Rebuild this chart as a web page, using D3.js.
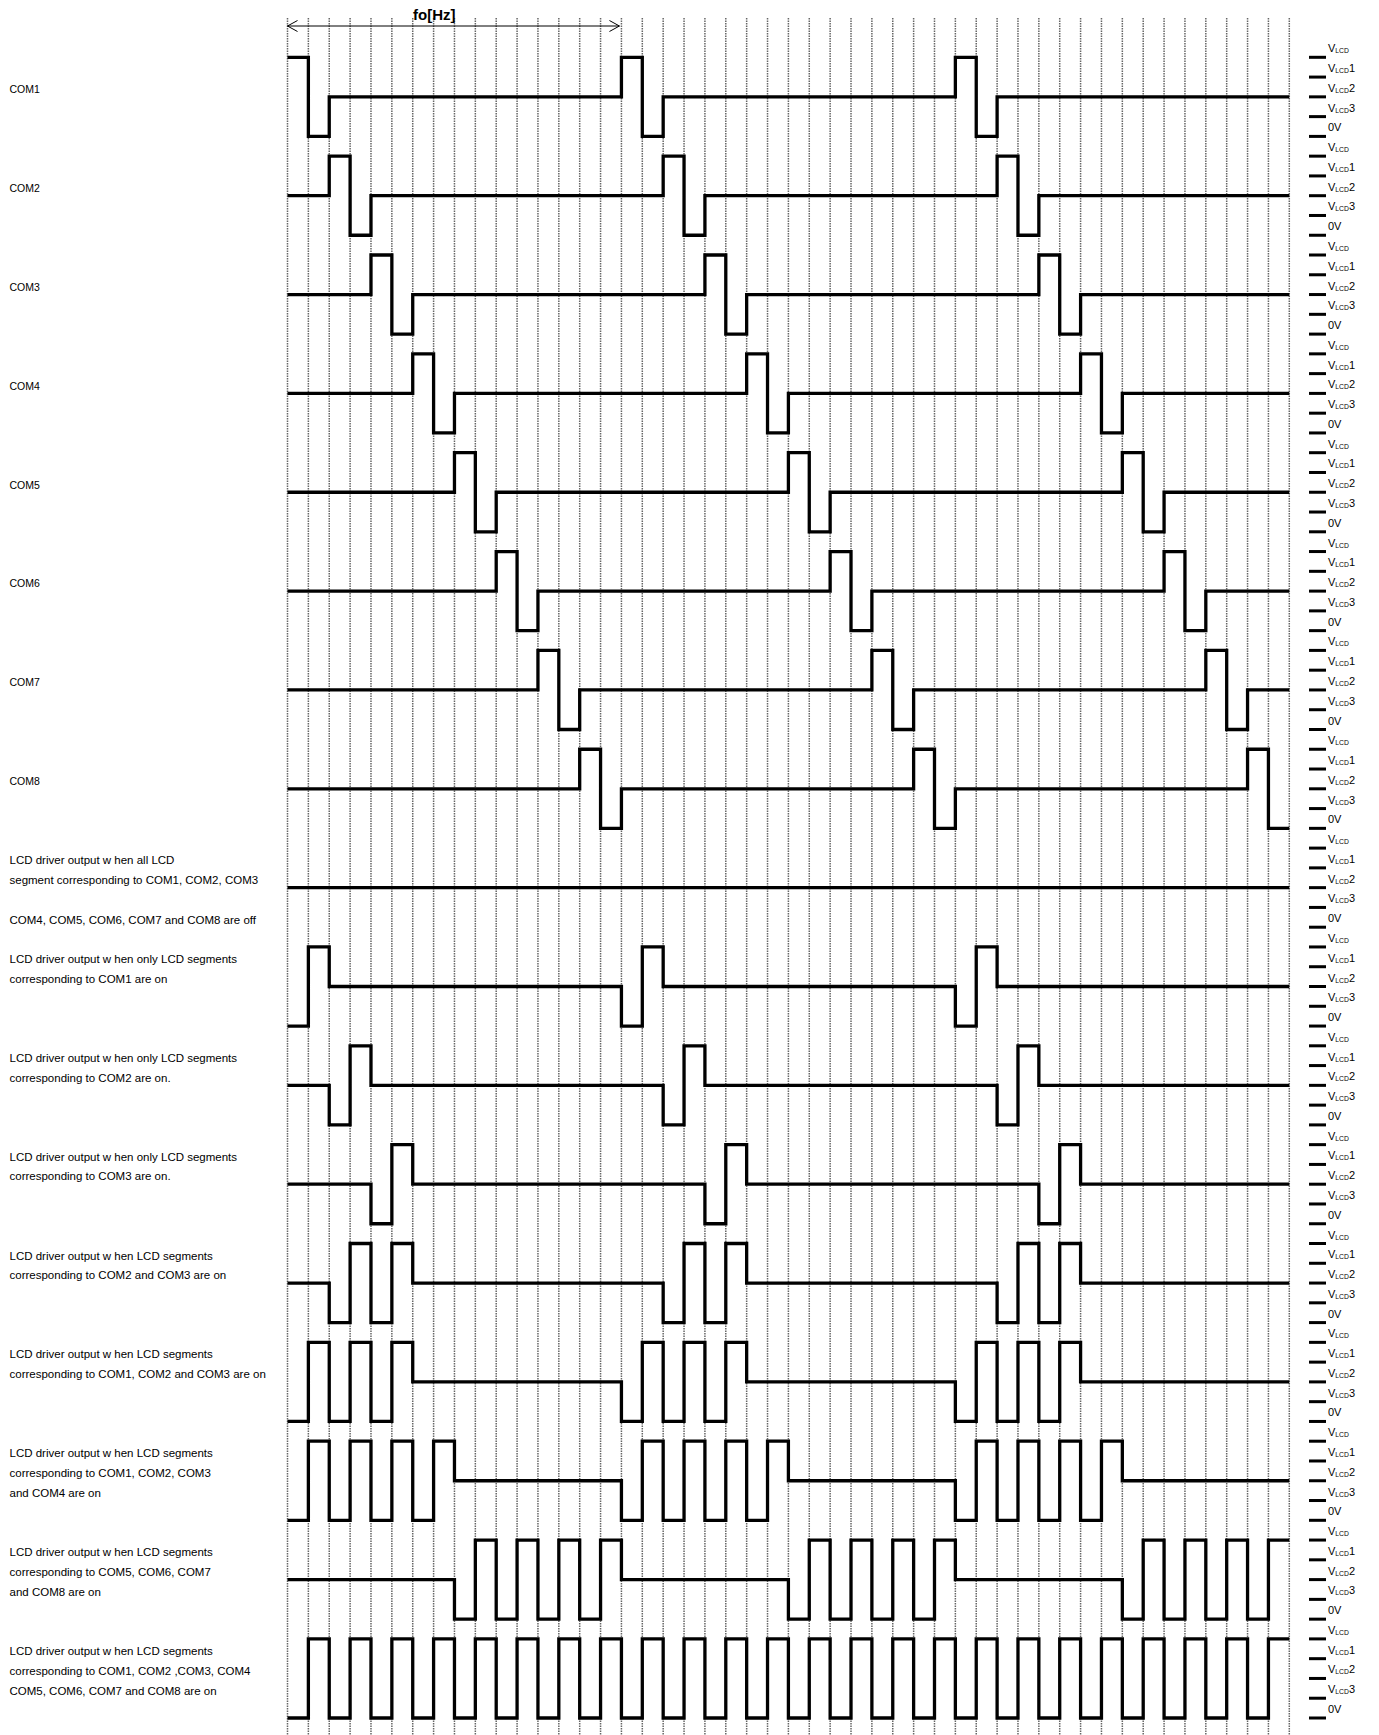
<!DOCTYPE html>
<html>
<head>
<meta charset="utf-8">
<script src="https://cdn.jsdelivr.net/npm/d3@7"></script>
<style>
  body { margin: 0; background: #fff; }
  text { font-family: "Liberation Sans", Arial, sans-serif; fill: #000; }
</style>
</head>
<body>
<div id="chart"></div>
<script>
var svgWidth = 1379;
var svgHeight = 1735;

// levels: 4 = VLCD, 3 = VLCD1, 2 = VLCD2, 1 = VLCD3, 0 = 0V
var slotCount = 48;
var levels = [4, 3, 2, 1, 0];
var levelNames = [["V", "LCD", ""], ["V", "LCD", "1"], ["V", "LCD", "2"], ["V", "LCD", "3"], ["0V", "", ""]];

// one value per time slot (3 frames of 16 slots)
var com1 = [4,0,2,2,2,2,2,2,2,2,2,2,2,2,2,2, 4,0,2,2,2,2,2,2,2,2,2,2,2,2,2,2, 4,0,2,2,2,2,2,2,2,2,2,2,2,2,2,2];
var com2 = [2,2,4,0,2,2,2,2,2,2,2,2,2,2,2,2, 2,2,4,0,2,2,2,2,2,2,2,2,2,2,2,2, 2,2,4,0,2,2,2,2,2,2,2,2,2,2,2,2];
var com3 = [2,2,2,2,4,0,2,2,2,2,2,2,2,2,2,2, 2,2,2,2,4,0,2,2,2,2,2,2,2,2,2,2, 2,2,2,2,4,0,2,2,2,2,2,2,2,2,2,2];
var com4 = [2,2,2,2,2,2,4,0,2,2,2,2,2,2,2,2, 2,2,2,2,2,2,4,0,2,2,2,2,2,2,2,2, 2,2,2,2,2,2,4,0,2,2,2,2,2,2,2,2];
var com5 = [2,2,2,2,2,2,2,2,4,0,2,2,2,2,2,2, 2,2,2,2,2,2,2,2,4,0,2,2,2,2,2,2, 2,2,2,2,2,2,2,2,4,0,2,2,2,2,2,2];
var com6 = [2,2,2,2,2,2,2,2,2,2,4,0,2,2,2,2, 2,2,2,2,2,2,2,2,2,2,4,0,2,2,2,2, 2,2,2,2,2,2,2,2,2,2,4,0,2,2,2,2];
var com7 = [2,2,2,2,2,2,2,2,2,2,2,2,4,0,2,2, 2,2,2,2,2,2,2,2,2,2,2,2,4,0,2,2, 2,2,2,2,2,2,2,2,2,2,2,2,4,0,2,2];
var com8 = [2,2,2,2,2,2,2,2,2,2,2,2,2,2,4,0, 2,2,2,2,2,2,2,2,2,2,2,2,2,2,4,0, 2,2,2,2,2,2,2,2,2,2,2,2,2,2,4,0];
var segOff  = [2,2,2,2,2,2,2,2,2,2,2,2,2,2,2,2, 2,2,2,2,2,2,2,2,2,2,2,2,2,2,2,2, 2,2,2,2,2,2,2,2,2,2,2,2,2,2,2,2];
var seg1    = [0,4,2,2,2,2,2,2,2,2,2,2,2,2,2,2, 0,4,2,2,2,2,2,2,2,2,2,2,2,2,2,2, 0,4,2,2,2,2,2,2,2,2,2,2,2,2,2,2];
var seg2    = [2,2,0,4,2,2,2,2,2,2,2,2,2,2,2,2, 2,2,0,4,2,2,2,2,2,2,2,2,2,2,2,2, 2,2,0,4,2,2,2,2,2,2,2,2,2,2,2,2];
var seg3    = [2,2,2,2,0,4,2,2,2,2,2,2,2,2,2,2, 2,2,2,2,0,4,2,2,2,2,2,2,2,2,2,2, 2,2,2,2,0,4,2,2,2,2,2,2,2,2,2,2];
var seg23   = [2,2,0,4,0,4,2,2,2,2,2,2,2,2,2,2, 2,2,0,4,0,4,2,2,2,2,2,2,2,2,2,2, 2,2,0,4,0,4,2,2,2,2,2,2,2,2,2,2];
var seg123  = [0,4,0,4,0,4,2,2,2,2,2,2,2,2,2,2, 0,4,0,4,0,4,2,2,2,2,2,2,2,2,2,2, 0,4,0,4,0,4,2,2,2,2,2,2,2,2,2,2];
var seg1234 = [0,4,0,4,0,4,0,4,2,2,2,2,2,2,2,2, 0,4,0,4,0,4,0,4,2,2,2,2,2,2,2,2, 0,4,0,4,0,4,0,4,2,2,2,2,2,2,2,2];
var seg5678 = [2,2,2,2,2,2,2,2,0,4,0,4,0,4,0,4, 2,2,2,2,2,2,2,2,0,4,0,4,0,4,0,4, 2,2,2,2,2,2,2,2,0,4,0,4,0,4,0,4];
var segAll  = [0,4,0,4,0,4,0,4,0,4,0,4,0,4,0,4, 0,4,0,4,0,4,0,4,0,4,0,4,0,4,0,4, 0,4,0,4,0,4,0,4,0,4,0,4,0,4,0,4];

var signals = [com1, com2, com3, com4, com5, com6, com7, com8,
  segOff, seg1, seg2, seg3, seg23, seg123, seg1234, seg5678, segAll];

// row captions, one entry per text line ("" leaves a line empty)
var rowLabels = [
  ["", "COM1"], ["", "COM2"], ["", "COM3"], ["", "COM4"],
  ["", "COM5"], ["", "COM6"], ["", "COM7"], ["", "COM8"],
  ["LCD driver output w hen all LCD", "segment corresponding to COM1, COM2, COM3", "", "COM4, COM5, COM6, COM7 and COM8 are off"],
  ["LCD driver output w hen only LCD segments", "corresponding to COM1 are on"],
  ["LCD driver output w hen only LCD segments", "corresponding to COM2 are on."],
  ["LCD driver output w hen only LCD segments", "corresponding to COM3 are on."],
  ["LCD driver output w hen LCD segments", "corresponding to COM2 and COM3 are on"],
  ["LCD driver output w hen LCD segments", "corresponding to COM1, COM2 and COM3 are on"],
  ["LCD driver output w hen LCD segments", "corresponding to COM1, COM2, COM3", "and COM4 are on"],
  ["LCD driver output w hen LCD segments", "corresponding to COM5, COM6, COM7", "and COM8 are on"],
  ["LCD driver output w hen LCD segments", "corresponding to COM1, COM2 ,COM3, COM4", "COM5, COM6, COM7 and COM8 are on"]
];

var periodLabel = "fo[Hz]";
var periodSlots = 16;

var svg = d3.select("#chart")
  .append("svg")
  .attr("width", svgWidth)
  .attr("height", svgHeight);

// scales
var x = d3.scaleLinear().domain([0, slotCount]).range([287.5, 1289.3]);
var rowTop = d3.scaleLinear().domain([0, 1]).range([57.3, 156.15]);
var levelY = d3.scaleLinear().domain([4, 0]).range([0, 79.1]);

// dotted time grid
svg.append("g")
  .selectAll("line")
  .data(d3.range(slotCount + 1))
  .enter()
  .append("line")
  .attr("x1", d => x(d))
  .attr("x2", d => x(d))
  .attr("y1", 18)
  .attr("y2", svgHeight)
  .attr("stroke", "#666")
  .attr("stroke-width", 1.5)
  .attr("stroke-dasharray", "1.5,1");

// period arrow
var ax0 = x(0), ax1 = x(periodSlots) - 2, ay = 26;
svg.append("line")
  .attr("x1", ax0).attr("x2", ax1)
  .attr("y1", ay).attr("y2", ay)
  .attr("stroke", "#000").attr("stroke-width", 1);
svg.append("path")
  .attr("d", `M${ax0 + 10},${ay - 5.5}L${ax0},${ay}L${ax0 + 10},${ay + 5.5}M${ax1 - 10},${ay - 5.5}L${ax1},${ay}L${ax1 - 10},${ay + 5.5}`)
  .attr("fill", "none").attr("stroke", "#000").attr("stroke-width", 1);
svg.append("text")
  .attr("x", 413)
  .attr("y", 19.5)
  .attr("font-size", 15)
  .attr("font-weight", "bold")
  .text(periodLabel);

// waveforms
var line = d3.line()
  .x(d => x(d[0]))
  .y(d => d[1])
  .curve(d3.curveStepAfter);

signals.forEach(function (sig, r) {
  var top = rowTop(r);
  var pts = sig.map((v, i) => [i, top + levelY(v)]);
  pts.push([slotCount, top + levelY(sig[sig.length - 1])]);
  svg.append("path")
    .attr("d", line(pts))
    .attr("fill", "none")
    .attr("stroke", "#000")
    .attr("stroke-width", 3.3)
    .attr("stroke-linejoin", "miter");
});

// row captions on the left
rowLabels.forEach(function (lines, r) {
  var top = rowTop(r);
  lines.forEach(function (t, i) {
    if (!t) return;
    svg.append("text")
      .attr("x", 9.5)
      .attr("y", top + 16 + i * 19.8)
      .attr("font-size", r < 8 ? 10.5 : 11.5)
      .text(t);
  });
});

// level ticks and names on the right
var ticks = [];
signals.forEach(function (sig, r) {
  levels.forEach(function (lv, j) {
    ticks.push({ y: rowTop(r) + levelY(lv), name: levelNames[j] });
  });
});

svg.append("g")
  .selectAll("rect")
  .data(ticks)
  .enter()
  .append("rect")
  .attr("x", 1309)
  .attr("y", d => d.y - 1.5)
  .attr("width", 17)
  .attr("height", 3)
  .attr("fill", "#000");

var tickText = svg.append("g")
  .selectAll("text")
  .data(ticks)
  .enter()
  .append("text")
  .attr("x", 1328)
  .attr("y", d => d.y - 5)
  .attr("font-size", 11);

tickText.append("tspan").text(d => d.name[0]);
tickText.filter(d => d.name[1])
  .append("tspan")
  .attr("font-size", 6.8)
  .attr("dy", 1)
  .text(d => d.name[1]);
tickText.filter(d => d.name[2])
  .append("tspan")
  .attr("dy", -1)
  .text(d => d.name[2]);
</script>
</body>
</html>
